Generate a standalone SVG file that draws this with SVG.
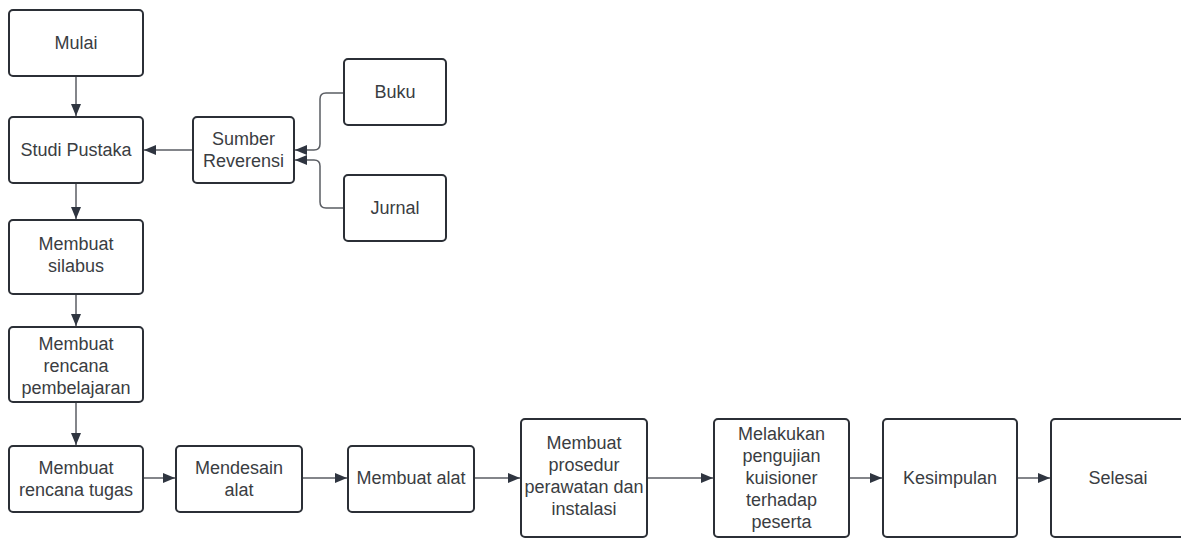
<svg xmlns="http://www.w3.org/2000/svg" width="1181" height="538" viewBox="0 0 1181 538">
<style>
.box{fill:#fff;stroke:#2b2f36;stroke-width:2}
.t{font-family:"Liberation Sans",Arial,sans-serif;font-size:18px;fill:#3a3d42;text-anchor:middle}
.c{fill:none;stroke:#5a5d63;stroke-width:1.5}
</style>
<defs>
<marker id="ah" viewBox="0 0 12 10" refX="12" refY="5" markerWidth="12" markerHeight="10" markerUnits="userSpaceOnUse" orient="auto">
<path d="M0,0 L12,5 L0,10 Z" fill="#2f3540"/>
</marker>
</defs>
<rect width="1181" height="538" fill="#fff"/>
<g id="connectors">
<path class="c" d="M76,77 V116" marker-end="url(#ah)"/>
<path class="c" d="M76,184 V219" marker-end="url(#ah)"/>
<path class="c" d="M76,295 V326" marker-end="url(#ah)"/>
<path class="c" d="M76,403 V445" marker-end="url(#ah)"/>
<path class="c" d="M192,150 H144" marker-end="url(#ah)"/>
<path class="c" d="M343,93 H326 Q320,93 320,99 V144 Q320,150 314,150 H295" marker-end="url(#ah)"/>
<path class="c" d="M343,208 H326 Q320,208 320,202 V166 Q320,160 314,160 H295" marker-end="url(#ah)"/>
<path class="c" d="M144,478 H175" marker-end="url(#ah)"/>
<path class="c" d="M303,478 H347" marker-end="url(#ah)"/>
<path class="c" d="M475,478 H520" marker-end="url(#ah)"/>
<path class="c" d="M648,478 H713" marker-end="url(#ah)"/>
<path class="c" d="M850,478 H882" marker-end="url(#ah)"/>
<path class="c" d="M1018,478 H1050" marker-end="url(#ah)"/>
</g>
<g id="mulai"><rect class="box" x="9" y="10" width="134" height="66" rx="4"/><text class="t" x="76" y="49">Mulai</text></g>
<g id="studi-pustaka"><rect class="box" x="9" y="117" width="134" height="66" rx="4"/><text class="t" x="76" y="156">Studi Pustaka</text></g>
<g id="sumber-reverensi"><rect class="box" x="193" y="117" width="101" height="66" rx="4"/><text class="t" x="243.5" y="145">Sumber</text><text class="t" x="243.5" y="167">Reverensi</text></g>
<g id="buku"><rect class="box" x="344" y="59" width="102" height="66" rx="4"/><text class="t" x="395" y="98">Buku</text></g>
<g id="jurnal"><rect class="box" x="344" y="175" width="102" height="66" rx="4"/><text class="t" x="395" y="214">Jurnal</text></g>
<g id="membuat-silabus"><rect class="box" x="9" y="220" width="134" height="74" rx="4"/><text class="t" x="76" y="250">Membuat</text><text class="t" x="76" y="272">silabus</text></g>
<g id="membuat-rencana-pembelajaran"><rect class="box" x="9" y="327" width="134" height="75" rx="4"/><text class="t" x="76" y="350">Membuat</text><text class="t" x="76" y="372">rencana</text><text class="t" x="76" y="394">pembelajaran</text></g>
<g id="membuat-rencana-tugas"><rect class="box" x="9" y="446" width="134" height="66" rx="4"/><text class="t" x="76" y="474">Membuat</text><text class="t" x="76" y="496">rencana tugas</text></g>
<g id="mendesain-alat"><rect class="box" x="176" y="446" width="126" height="66" rx="4"/><text class="t" x="239" y="474">Mendesain</text><text class="t" x="239" y="496">alat</text></g>
<g id="membuat-alat"><rect class="box" x="348" y="446" width="126" height="66" rx="4"/><text class="t" x="411" y="484">Membuat alat</text></g>
<g id="membuat-prosedur"><rect class="box" x="521" y="419" width="126" height="118" rx="4"/><text class="t" x="584" y="449">Membuat</text><text class="t" x="584" y="471">prosedur</text><text class="t" x="584" y="493">perawatan dan</text><text class="t" x="584" y="515">instalasi</text></g>
<g id="melakukan-pengujian"><rect class="box" x="714" y="419" width="135" height="118" rx="4"/><text class="t" x="781.5" y="440">Melakukan</text><text class="t" x="781.5" y="462">pengujian</text><text class="t" x="781.5" y="484">kuisioner</text><text class="t" x="781.5" y="506">terhadap</text><text class="t" x="781.5" y="528">peserta</text></g>
<g id="kesimpulan"><rect class="box" x="883" y="419" width="134" height="118" rx="4"/><text class="t" x="950" y="484">Kesimpulan</text></g>
<g id="selesai"><rect class="box" x="1051" y="419" width="135" height="118" rx="4"/><text class="t" x="1118" y="484">Selesai</text></g>
</svg>
